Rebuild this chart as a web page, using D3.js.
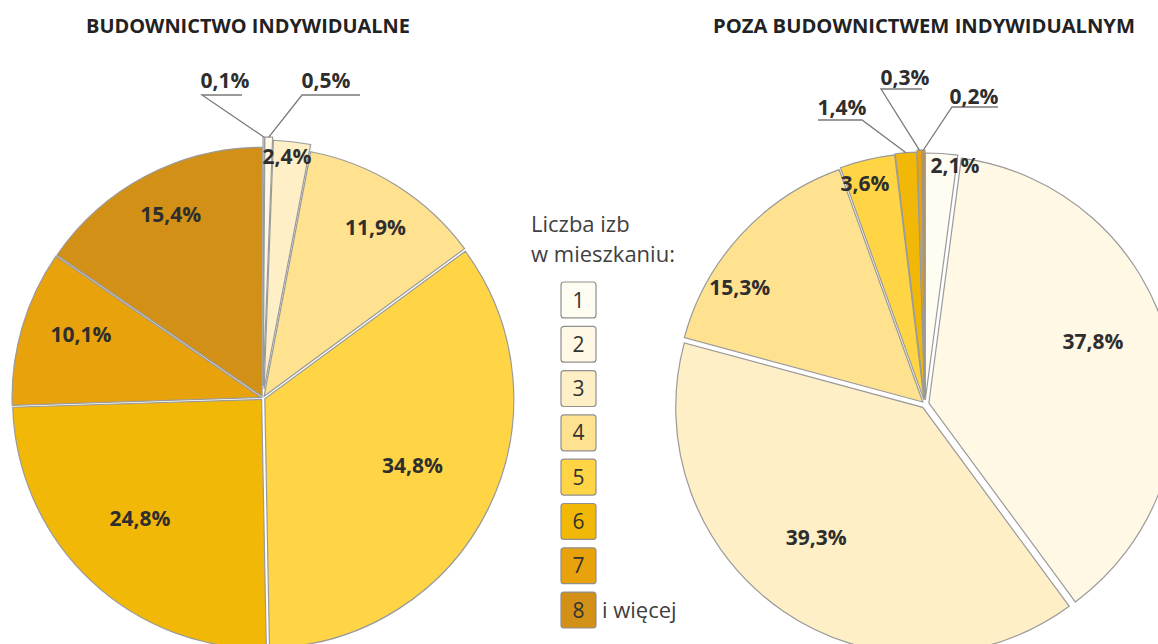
<!DOCTYPE html>
<html>
<head>
<meta charset="utf-8">
<script src="https://cdn.jsdelivr.net/npm/d3@7"></script>
<style>
  body { margin:0; background:#fff; }
  svg { display:block; }
</style>
</head>
<body>
<div class="canvas"></div>
<script>

// data

var categories = ["1","2","3","4","5","6","7","8"];
var indywidualne = [0.1, 0.5, 2.4, 11.9, 34.8, 24.8, 10.1, 15.4];
var poza = [2.1, 37.8, 39.3, 15.3, 3.6, 1.4, 0.3, 0.2];
var titles = ["BUDOWNICTWO INDYWIDUALNE", "POZA BUDOWNICTWEM INDYWIDUALNYM"];
var legendTitle = ["Liczba izb", "w mieszkaniu:"];
var legendExtra = "i więcej";

var colors = ["#FFFCF2","#FFF8E4","#FFEFC6","#FFE28F","#FFD545","#F2B808","#E8A20B","#D29017"];

// layout

var width = 1158, height = 644;

var pies = [
  {values: indywidualne, cx:263, cy:398, r:249, title:titles[0], tx:248, tw:324,
   explode:[12,12,9,2,2,2,2,2],
   // label radius (px) and angle nudge (deg) for labels inside slices
   labR:[0,0,243,204,164,172,193,205],
   labDA:[0,0,-0.8,1.2,-2,2.1,3,1],
   // callouts for tiny slices: elbow, end of horizontal, text centre
   callouts:{0:{elbow:[202,95], hx:242, text:[225,80]},
             1:{elbow:[302,95], hx:360, text:[326,80]}}},
  {values: poza, cx:925, cy:404, r:247, title:titles[1], tx:924, tw:422,
   explode:[4,4,4,3,4,5,7,7],
   labR:[240,179,172,219,229,0,0,0],
   labDA:[3.4,-5.9,4.9,-10.4,-1.9,0,0,0],
   callouts:{5:{elbow:[862,120], hx:818, text:[842,107]},
             6:{elbow:[881,89], hx:922, text:[905,77]},
             7:{elbow:[952,107], hx:998, text:[974,96]}}}
];

var svg = d3.select('.canvas')
    .append('svg')
    .attr('width', width)
    .attr('height', height);

var fmt = function(v){ return d3.format(".1f")(v).replace(".", ",") + "%"; };

var pie = d3.pie().sort(null).value(function(d){ return d; }).startAngle(0).endAngle(2*Math.PI);

pies.forEach(function(p){

    var arc = d3.arc().innerRadius(0).outerRadius(p.r);
    var arcs = pie(p.values);

    var g = svg.append("g")
        .attr("transform", "translate(" + p.cx + "," + p.cy + ")");

    var mid = function(d){ return (d.startAngle + d.endAngle)/2; };

    g.selectAll(".slice")
        .data(arcs)
        .enter().append("path")
        .attr("class", "slice")
        .attr("d", arc)
        .attr("transform", function(d,i){
            var a = mid(d), e = p.explode[i];
            return "translate(" + (e*Math.sin(a)) + "," + (-e*Math.cos(a)) + ")";
        })
        .attr("fill", function(d,i){ return colors[i]; })
        .attr("stroke", "#9a9a9a")
        .attr("stroke-width", 1.2);

    // labels inside slices
    g.selectAll(".lab")
        .data(arcs.filter(function(d,i){ return p.labR[i] > 0; }))
        .enter().append("text")
        .attr("class", "lab")
        .attr("x", function(d){ var a = mid(d) + p.labDA[d.index]*Math.PI/180; return p.labR[d.index]*Math.sin(a); })
        .attr("y", function(d){ var a = mid(d) + p.labDA[d.index]*Math.PI/180; return -p.labR[d.index]*Math.cos(a); })
        .attr("dy", "0.36em")
        .attr("text-anchor", "middle")
        .attr("font-family", "'Open Sans', sans-serif")
        .attr("font-size", "21px")
        .attr("font-weight", "bold")
        .attr("fill", "#2e2e2e")
        .text(function(d){ return fmt(d.data); });

    // callouts for the tiny slices
    Object.keys(p.callouts).forEach(function(k){
        var c = p.callouts[k], d = arcs[+k];
        var a = mid(d), rr = p.r + p.explode[+k];
        var px = p.cx + rr*Math.sin(a), py = p.cy - rr*Math.cos(a);
        svg.append("polyline")
            .attr("points", [[px,py], c.elbow, [c.hx, c.elbow[1]]].map(function(q){ return q.join(","); }).join(" "))
            .attr("fill", "none")
            .attr("stroke", "#7a7a7a")
            .attr("stroke-width", 1.3);
        svg.append("text")
            .attr("x", c.text[0])
            .attr("y", c.text[1])
            .attr("dy", "0.36em")
            .attr("text-anchor", "middle")
            .attr("font-family", "'Open Sans', sans-serif")
            .attr("font-size", "21px")
            .attr("font-weight", "bold")
            .attr("fill", "#2e2e2e")
            .text(fmt(d.data));
    });

    svg.append("text")
        .attr("x", p.tx)
        .attr("y", 33)
        .attr("text-anchor", "middle")
        .attr("font-family", "'Open Sans', sans-serif")
        .attr("font-size", "19px")
        .attr("font-weight", "bold")
        .attr("fill", "#222")
        .attr("textLength", p.tw)
        .attr("lengthAdjust", "spacingAndGlyphs")
        .text(p.title);
});

// legend

var leg = svg.append("g");

leg.selectAll(".lt")
    .data(legendTitle)
    .enter().append("text")
    .attr("x", 531)
    .attr("y", function(d,i){ return 232 + i*30; })
    .attr("font-family", "'Open Sans', sans-serif")
    .attr("font-size", "22px")
    .attr("fill", "#404040")
    .text(function(d){ return d; });

var ly = d3.scaleBand().domain(categories).range([282, 628]).paddingInner(0.19).paddingOuter(0);

leg.selectAll(".box")
    .data(categories)
    .enter().append("rect")
    .attr("x", 561)
    .attr("y", function(d){ return ly(d); })
    .attr("width", 35)
    .attr("height", ly.bandwidth())
    .attr("rx", 3)
    .attr("fill", function(d,i){ return colors[i]; })
    .attr("stroke", "#8f8f8f")
    .attr("stroke-width", 1.2);

leg.selectAll(".num")
    .data(categories)
    .enter().append("text")
    .attr("x", 578.5)
    .attr("y", function(d){ return ly(d) + ly.bandwidth()/2; })
    .attr("dy", "0.36em")
    .attr("text-anchor", "middle")
    .attr("font-family", "'Open Sans', sans-serif")
    .attr("font-size", "21px")
    .attr("fill", "#333")
    .text(function(d){ return d; });

leg.append("text")
    .attr("x", 602)
    .attr("y", ly("8") + ly.bandwidth()/2)
    .attr("dy", "0.36em")
    .attr("font-family", "'Open Sans', sans-serif")
    .attr("font-size", "22px")
    .attr("fill", "#404040")
    .text(legendExtra);

</script>
</body>
</html>
